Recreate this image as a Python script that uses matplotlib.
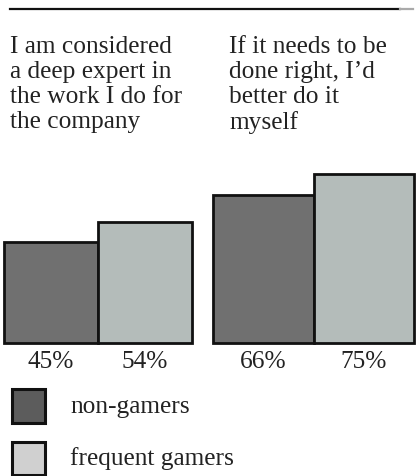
import matplotlib
matplotlib.use("Agg")
import matplotlib.pyplot as plt
from matplotlib.patches import Rectangle
from matplotlib.lines import Line2D

questions = [
    "I am considered\na deep expert in\nthe work I do for\nthe company",
    "If it needs to be\ndone right, I\u2019d\nbetter do it\nmyself",
]
series_names = ["non-gamers", "frequent gamers"]
non_gamers = [45, 66]
frequent_gamers = [54, 75]

W, H = 416, 476
DPI = 100
bar_colors = ["#707070", "#b4bcba"]
legend_colors = ["#5c5c5c", "#d0d0d0"]
FONT = "Liberation Serif"
FS = 18.3

fig = plt.figure(figsize=(W / DPI, H / DPI), dpi=DPI)
fig.patch.set_facecolor("white")

def fx(x):
    return x / W

def fy(y):
    return 1 - y / H

# top rule
fig.add_artist(Line2D([fx(10), fx(400)], [fy(9), fy(9)], color="#111111", lw=1.6))
fig.add_artist(Line2D([fx(400), fx(413)], [fy(9), fy(9)], color="#aaaaaa", lw=1.6))

# question texts
text_x = [10, 229]
for q, tx in zip(questions, text_x):
    fig.text(fx(tx), fy(36), q, ha="left", va="top", fontsize=FS,
             family=FONT, color="#222222", linespacing=1.17)

# bar axes per group
bottom_px = 343
px_per_pct = 2.25
groups = [(4, 192), (213, 414)]
for gi, (x0, x1) in enumerate(groups):
    ax = fig.add_axes([fx(x0), fy(bottom_px), (x1 - x0) / W, 100 * px_per_pct / H])
    ax.set_xlim(0, 2)
    ax.set_ylim(0, 100)
    ax.axis("off")
    vals = [non_gamers[gi], frequent_gamers[gi]]
    bars = ax.bar([0, 1], vals, width=1.0, align="edge", color=bar_colors,
                  edgecolor="#111111", linewidth=2.0)
    for b in bars:
        b.set_clip_on(False)
    for i, v in enumerate(vals):
        ax.annotate(f"{v}%", xy=(i + 0.5, 0), xytext=(0, -14),
                    textcoords="offset points", ha="center", va="center",
                    fontsize=FS, family=FONT, color="#222222")

# legend
legend_boxes = [(12, 389, 33, 34), (12, 442, 33, 33)]
legend_text_y = [407, 459]
for name, col, (lx, ly, lw, lh), ty in zip(series_names, legend_colors, legend_boxes, legend_text_y):
    fig.add_artist(Rectangle((fx(lx), fy(ly + lh)), lw / W, lh / H,
                             facecolor=col, edgecolor="#111111", linewidth=2.2,
                             transform=fig.transFigure))
    fig.text(fx(70), fy(ty), name, ha="left", va="center", fontsize=FS,
             family=FONT, color="#222222")

fig.savefig("out.png", dpi=DPI, facecolor="white")
